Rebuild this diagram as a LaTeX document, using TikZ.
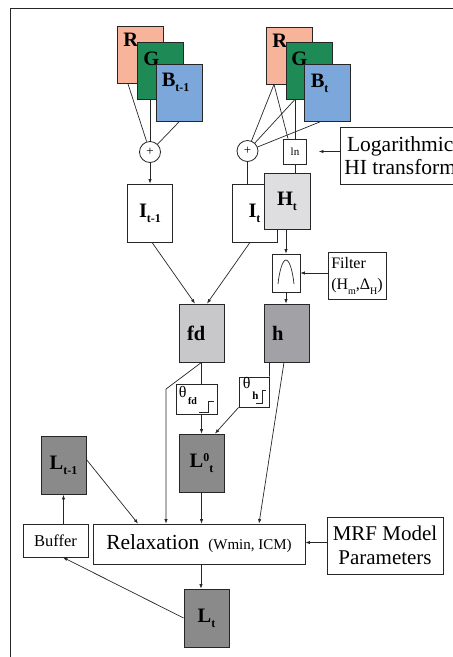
\documentclass[tikz,border=0pt]{standalone}
\usepackage{fontspec}
\setmainfont{Liberation Serif}
\usetikzlibrary{arrows.meta,calc}

\definecolor{rcol}{HTML}{F7B49A}
\definecolor{gcol}{HTML}{1E8A56}
\definecolor{bcol}{HTML}{7BA7DB}
\definecolor{htcol}{HTML}{DEDEE0}
\definecolor{fdcol}{HTML}{C8C8CA}
\definecolor{hcol}{HTML}{A2A2A6}
\definecolor{lcol}{HTML}{8A8A8A}
\definecolor{edge}{HTML}{262626}

\newcommand{\fsz}[1]{\fontsize{#1}{#1}\selectfont}
\newcommand{\lsub}[2][12]{\raisebox{-5pt}{\fontsize{#1}{#1}\selectfont #2}}

\begin{document}
\begin{tikzpicture}[x=1pt,y=-1pt,
  box/.style={draw=edge, line width=0.8pt, inner sep=0pt, minimum width=45pt, minimum height=58pt, font=\fsz{20.5}\bfseries},
  plate/.style={box, minimum width=46pt, minimum height=57pt},
  tag/.style={inner sep=0pt, anchor=north west, font=\fsz{20.5}\bfseries},
  txtbox/.style={draw=edge, line width=0.8pt, fill=white, inner sep=0pt, align=center},
  sumc/.style={circle, draw=edge, line width=0.8pt, fill=white, minimum size=21pt, inner sep=0pt, font=\fsz{13}},
  wire/.style={draw=edge, line width=0.7pt},
  arr/.style={wire, -{Latex[length=4.5pt,width=3.4pt]}}]

\useasboundingbox (0,0) rectangle (453,657);
\clip (0,0) rectangle (453,657);
\draw[edge, line width=1pt] (10,657) -- (10,8) -- (453,8);

% colour planes at t-1
\node[plate, fill=rcol] (Rl) at (140.5,55) {};
\node[tag] (Rltag) at ([shift={(6,7)}]Rl.north west) {R};
\node[plate, fill=gcol] (Gl) at (160.5,70.5) {};
\node[tag] (Gltag) at ([shift={(6,10)}]Gl.north west) {G};
\node[plate, fill=bcol] (Bl) at (179,93) {};
\node[tag] (Bltag) at ([shift={(6,9)}]Bl.north west) {B\lsub{t-1}};

% colour planes at t
\node[plate, fill=rcol] (Rr) at (289.5,55.5) {};
\node[tag] (Rrtag) at ([shift={(6,7)}]Rr.north west) {R};
\node[plate, fill=gcol] (Gr) at (309.5,70.5) {};
\node[tag] (Grtag) at ([shift={(5,10)}]Gr.north west) {G};
\node[plate, fill=bcol] (Br) at (327,93) {};
\node[tag] (Brtag) at ([shift={(7,10)}]Br.north west) {B\lsub{t}};

\node[sumc] (plusl) at (150,152) {+};
\node[sumc] (plusr) at (247.5,151) {+};
\node[txtbox, minimum width=23pt, minimum height=25pt, font=\fsz{11}] (ln) at (295,151.5) {ln};
\node[txtbox, anchor=west, minimum height=57pt, inner xsep=4pt, font=\fontsize{21.5}{23}\selectfont] (logbox) at (340,155.5) {Logarithmic\\HI transform};

\node[box, fill=white] (It1) at (150,213) {I\lsub{t-1}};
\node[box, fill=white] (It) at (254.5,213) {I\lsub{t}};
\node[box, fill=htcol, minimum width=46pt, minimum height=56pt] (Ht) at (287,201) {H\lsub{t}};

% hue filter
\node[txtbox, minimum width=28pt, minimum height=38pt] (bell) at (286,273) {};
\draw[wire] ([shift={(-8,11)}]bell.center) .. controls +(1,-10) and +(-4,0) .. ([shift={(0,-13)}]bell.center)
  .. controls +(4,0) and +(-1,-10) .. ([shift={(8,11)}]bell.center);
\node[txtbox, minimum width=58pt, minimum height=47pt, align=left, font=\fontsize{16}{21}\selectfont] (filt) at (357,275.5) {Filter\\(H\lsub[10]{m},Δ\lsub[10]{H})};

\node[box, fill=fdcol, text width=29pt, align=left] (fd) at (201.5,333) {fd};
\node[box, fill=hcol, text width=29pt, align=left] (h) at (286.5,333) {h};

% thresholds
\node[txtbox, minimum width=41pt, minimum height=30pt] (thfd) at (196.5,399) {};
\node[inner sep=0pt, anchor=north west, font=\fsz{16}] (thfdtx) at ([shift={(3,3)}]thfd.north west) {θ\raisebox{-7pt}{\fsz{10}\bfseries\,fd}};
\draw[wire] ([shift={(-18,-2)}]thfd.south east) -- ++(9,0) -- ++(0,-11) -- ++(6,0);
\node[txtbox, minimum width=30pt, minimum height=30pt] (thh) at (254,392) {};
\node[inner sep=0pt, anchor=north west, font=\fsz{16}] (thhtx) at ([shift={(4,1)}]thh.north west) {θ\raisebox{-11pt}{\fsz{11}\bfseries\,h}};
\draw[wire] ([shift={(-13,-4)}]thh.south east) -- ++(6,0) -- ++(0,-13) -- ++(4,0);

\node[box, fill=lcol] (L0) at (201.5,463) {L\raisebox{6pt}{\fsz{12}0}\lsub{t}};
\node[box, fill=lcol] (Lt1) at (63.5,465.5) {L\lsub{t-1}};
\node[txtbox, minimum width=65pt, minimum height=33pt, font=\fsz{16.5}] (buffer) at (55.5,540.5) {Buffer};
\node[txtbox, minimum width=212pt, minimum height=40pt, font=\fsz{21.5}] (relax) at (199,544) {Relaxation\hspace{9pt}{\fsz{15}(Wmin, ICM)}};
\node[txtbox, minimum width=116pt, minimum height=57pt, font=\fontsize{21}{24}\selectfont] (mrf) at (385,545.5) {MRF Model\\Parameters};
\node[box, fill=lcol] (Lt) at (206.5,618) {L\lsub{t}};

% connectors, top part
\draw[wire] ([xshift=-12.5pt]Rl.south) -- (plusl);
\draw[wire] ([xshift=-10.5pt]Gl.south) -- (plusl.north);
\draw[wire] (Bl.south) -- (plusl);
\draw[arr] (plusl.south) -- (It1.north);
\coordinate (rfoot) at ([xshift=-15.5pt]Rr.south);
\draw[wire] (rfoot) -- (plusr);
\draw[wire] (rfoot) -- ([xshift=-7pt]ln.north);
\draw[wire] ([xshift=-14.5pt]Gr.south) -- (plusr);
\draw[wire] ([xshift=-14.5pt]Gr.south) -- (ln.north);
\draw[wire] ([xshift=-7pt]Br.south) -- (plusr);
\draw[wire] (plusr.south) -- (plusr.south |- It.north);
\draw[wire] (ln.south) -- (ln.south |- Ht.north);
\draw[arr, shorten >=12pt] (logbox.west |- ln.east) -- (ln.east);
\draw[arr] (Ht.south -| bell.north) -- (bell.north);
\draw[arr] (filt.west |- bell.east) -- (bell.east);
\draw[arr] (bell.south) -- (bell.south |- h.north);
\draw[arr] ([xshift=2pt]It1.south) -- ([xshift=-6.5pt]fd.north);
\draw[arr] ([xshift=-4.5pt]It.south) -- ([xshift=5.5pt]fd.north);

% connectors, bottom part
\draw[wire] (fd.south) -- (fd.south |- thfd.north);
\coordinate (fdknee) at (166,389);
\draw[arr] (fd.south) -- (fdknee) -- (fdknee |- relax.north);
\draw[wire] ([xshift=6pt]h.south west) -- (thh.north east);
\draw[arr] ([xshift=-2.5pt]h.south) -- ([xshift=60pt]relax.north);
\draw[arr] (thh.south west) -- ([xshift=13.5pt]L0.north);
\draw[arr] (thfd.south -| L0.north) -- (L0.north);
\draw[arr] (L0.south) -- (L0.south |- relax.north);
\draw[arr] ([yshift=6pt]Lt1.east) -- ([xshift=-61pt]relax.north);
\draw[arr] (buffer.north -| Lt1.south) -- (Lt1.south);
\draw[arr] ([yshift=3pt]mrf.west) -- ([yshift=3pt]mrf.west -| relax.east);
\draw[arr] ([xshift=2pt]relax.south) -- ([xshift=2pt]relax.south |- Lt.north);
\draw[arr] (Lt.west) -- ([xshift=7.5pt]buffer.south);
\end{tikzpicture}
\end{document}
